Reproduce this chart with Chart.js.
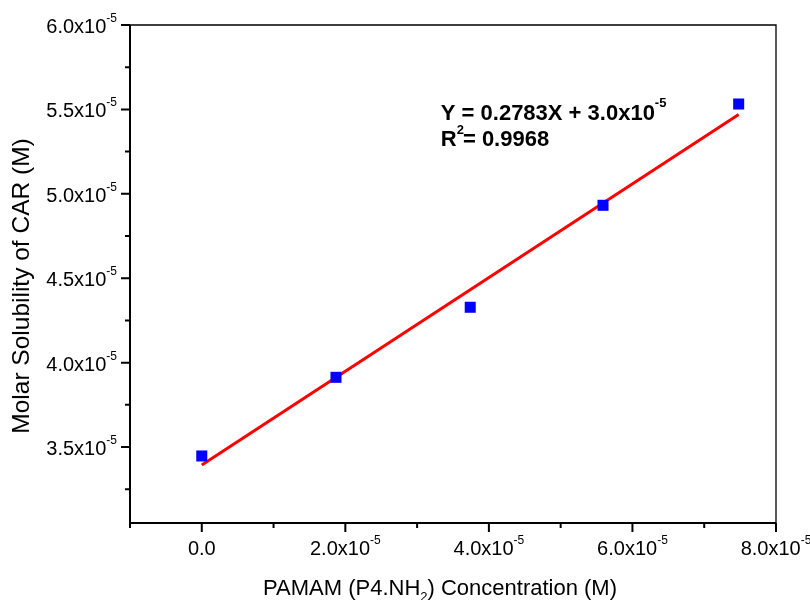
<!DOCTYPE html>
<html>
<head>
<meta charset="utf-8">
<script src="https://cdn.jsdelivr.net/npm/chart.js@4/dist/chart.umd.min.js"></script>
<style>
  html, body { margin: 0; padding: 0; background: #fff; }
  #wrap { width: 810px; height: 600px; position: relative; }
</style>
</head>
<body>
<div id="wrap"><canvas id="chart"></canvas></div>
<script>
// measured solubility points
const concX = [0, 1.87e-5, 3.74e-5, 5.59e-5, 7.48e-5];
const solY = [3.447e-5, 3.913e-5, 4.328e-5, 4.932e-5, 5.532e-5];

// linear fit end points
const fitX = [0, 7.48e-5];
const fitY = [3.393e-5, 5.47e-5];

// axis ticks
const xMajor = [0, 2e-5, 4e-5, 6e-5, 8e-5];
const xMinor = [-1e-5, 1e-5, 3e-5, 5e-5, 7e-5];
const xLabels = ["0.0", "2.0x10", "4.0x10", "6.0x10", "8.0x10"];
const xExps = ["", "-5", "-5", "-5", "-5"];

const yMajor = [3.5e-5, 4.0e-5, 4.5e-5, 5.0e-5, 5.5e-5, 6.0e-5];
const yMinor = [3.25e-5, 3.75e-5, 4.25e-5, 4.75e-5, 5.25e-5, 5.75e-5];
const yLabels = ["3.5x10", "4.0x10", "4.5x10", "5.0x10", "5.5x10", "6.0x10"];
const yExps = ["-5", "-5", "-5", "-5", "-5", "-5"];

const eqText = "Y = 0.2783X + 3.0x10";
const eqExp = "-5";
const r2Text = "= 0.9968";

const FONT = '"Liberation Sans", Arial, sans-serif';

function supText(ctx, main, exp, x, y, size, bold, align) {
  const w = bold ? "bold " : "";
  ctx.font = w + size + "px " + FONT;
  const mw = ctx.measureText(main).width;
  ctx.font = w + Math.round(size * 0.6) + "px " + FONT;
  const ew = exp ? ctx.measureText(exp).width : 0;
  let x0 = x;
  if (align === "center") x0 = x - (mw + ew) / 2;
  if (align === "right") x0 = x - (mw + ew);
  ctx.textAlign = "left";
  ctx.textBaseline = "alphabetic";
  ctx.font = w + size + "px " + FONT;
  ctx.fillText(main, x0, y);
  if (exp) {
    ctx.font = w + Math.round(size * 0.6) + "px " + FONT;
    ctx.fillText(exp, x0 + mw, y - size * 0.55);
  }
}

const axesPlugin = {
  id: "originAxes",
  afterDraw(chart) {
    const { ctx, chartArea: a, scales: { x, y } } = chart;
    ctx.save();
    ctx.strokeStyle = "#000";
    ctx.fillStyle = "#000";

    // frame
    ctx.lineWidth = 1.3;
    ctx.beginPath();
    ctx.moveTo(a.left, a.top);
    ctx.lineTo(a.right, a.top);
    ctx.lineTo(a.right, a.bottom);
    ctx.stroke();
    ctx.lineWidth = 2;
    ctx.beginPath();
    ctx.moveTo(a.left, a.top);
    ctx.lineTo(a.left, a.bottom);
    ctx.lineTo(a.right, a.bottom);
    ctx.stroke();

    // ticks
    ctx.lineWidth = 2;
    ctx.beginPath();
    xMajor.forEach(v => { const p = x.getPixelForValue(v); ctx.moveTo(p, a.bottom); ctx.lineTo(p, a.bottom + 9); });
    xMinor.forEach(v => { const p = x.getPixelForValue(v); ctx.moveTo(p, a.bottom); ctx.lineTo(p, a.bottom + 5); });
    yMajor.forEach(v => { const p = y.getPixelForValue(v); ctx.moveTo(a.left, p); ctx.lineTo(a.left - 9, p); });
    yMinor.forEach(v => { const p = y.getPixelForValue(v); ctx.moveTo(a.left, p); ctx.lineTo(a.left - 5, p); });
    ctx.stroke();

    // tick labels
    xMajor.forEach((v, i) => {
      supText(ctx, xLabels[i], xExps[i], x.getPixelForValue(v), a.bottom + 32, 20, false, "center");
    });
    yMajor.forEach((v, i) => {
      supText(ctx, yLabels[i], yExps[i], a.left - 13, y.getPixelForValue(v) + 8, 20, false, "right");
    });

    // axis titles
    ctx.save();
    ctx.translate(22, 286);
    ctx.rotate(-Math.PI / 2);
    ctx.font = "24.5px " + FONT;
    ctx.textAlign = "center";
    ctx.textBaseline = "middle";
    ctx.fillText("Molar Solubility of CAR (M)", 0, 0);
    ctx.restore();

    ctx.font = "22px " + FONT;
    ctx.textAlign = "left";
    ctx.textBaseline = "alphabetic";
    const t1 = "PAMAM (P4.NH", t2 = ") Concentration (M)";
    const w1 = ctx.measureText(t1).width;
    ctx.font = "13px " + FONT;
    const ws = ctx.measureText("2").width;
    ctx.font = "22px " + FONT;
    const w2 = ctx.measureText(t2).width;
    const tx = 440 - (w1 + ws + w2) / 2;
    const ty = a.bottom + 72;
    ctx.fillText(t1, tx, ty);
    ctx.fillText(t2, tx + w1 + ws, ty);
    ctx.font = "13px " + FONT;
    ctx.fillText("2", tx + w1, ty + 6);

    // fit equation
    const ex = x.getPixelForValue(3.33e-5);
    const ey = y.getPixelForValue(5.44e-5);
    supText(ctx, eqText, eqExp, ex, ey, 22, true, "left");
    ctx.font = "bold 22px " + FONT;
    const rw = ctx.measureText("R").width;
    ctx.fillText("R", ex, ey + 26);
    ctx.font = "bold 13px " + FONT;
    const sw = ctx.measureText("2").width;
    ctx.fillText("2", ex + rw, ey + 26 - 12);
    ctx.font = "bold 22px " + FONT;
    ctx.fillText(r2Text, ex + rw + sw - 1, ey + 26);

    ctx.restore();
  }
};

new Chart(document.getElementById("chart"), {
  type: "scatter",
  data: {
    datasets: [
      {
        label: "fit",
        data: fitX.map((v, i) => ({ x: v, y: fitY[i] })),
        showLine: true,
        borderColor: "#ff0000",
        borderWidth: 3,
        pointRadius: 0,
        order: 2
      },
      {
        label: "data",
        data: concX.map((v, i) => ({ x: v, y: solY[i] })),
        pointStyle: "rect",
        pointRadius: 7.8,
        backgroundColor: "#0000ff",
        borderWidth: 0,
        order: 1
      }
    ]
  },
  options: {
    responsive: true,
    maintainAspectRatio: false,
    animation: false,
    layout: { padding: { left: 130, right: 34, top: 25, bottom: 77 } },
    plugins: { legend: { display: false }, tooltip: { enabled: false } },
    scales: {
      x: { type: "linear", min: -1e-5, max: 8e-5, display: false },
      y: { type: "linear", min: 3.05e-5, max: 6.0e-5, display: false }
    }
  },
  plugins: [axesPlugin]
});
</script>
</body>
</html>
